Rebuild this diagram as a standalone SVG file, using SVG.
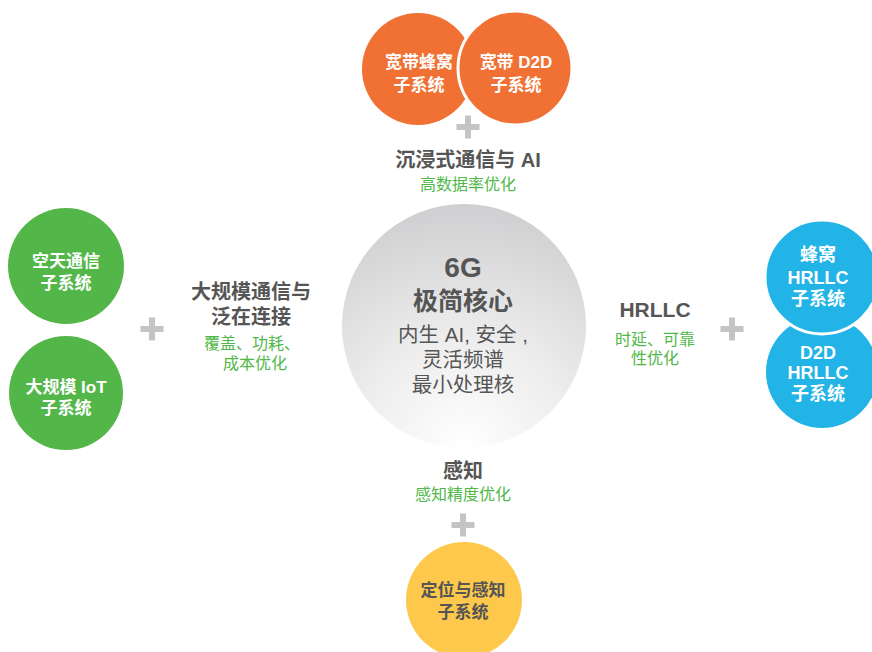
<svg xmlns="http://www.w3.org/2000/svg" width="872" height="652" viewBox="0 0 872 652">
<defs>
<radialGradient id="coreGrad" cx="50%" cy="100%" r="100%" fx="50%" fy="100%">
<stop offset="0" stop-color="#ffffff"/>
<stop offset="0.45" stop-color="#ededee"/>
<stop offset="1" stop-color="#cfcfd1"/>
</radialGradient>
<g id="plus"><rect x="-11.5" y="-3" width="23" height="6" fill="#c4c4c7"/><rect x="-3" y="-11.5" width="6" height="23" fill="#c4c4c7"/></g>
</defs>
<style>
text{font-family:"Liberation Sans","Noto Sans CJK SC",sans-serif;text-anchor:middle}
.w{fill:#fff;font-weight:bold;font-size:17px}
.wb{fill:#fff;font-weight:bold;font-size:18px}
.h{fill:#555;font-weight:bold;font-size:20px}
.g{fill:#4fb848;font-size:16px}
.d{fill:#555;font-weight:bold;font-size:17px}
.orange{fill:#f07133}
.green{fill:#53b649}
.blue{fill:#22b3e7}
.yellow{fill:#fdc84b}
</style>
<rect width="872" height="652" fill="#ffffff"/>

<g id="connectors">
<use href="#plus" x="468" y="127"/>
<use href="#plus" x="152" y="329"/>
<use href="#plus" x="732" y="329"/>
<use href="#plus" x="463" y="525"/>
</g>

<g id="core">
<circle cx="464" cy="326" r="122" fill="url(#coreGrad)"/>
<text x="463" y="277" fill="#555" font-weight="bold" font-size="28">6G</text>
<text x="463" y="310" fill="#555" font-weight="bold" font-size="25">极简核心</text>
<text x="463" y="342" fill="#555" font-size="20.5">内生 AI, 安全 ,</text>
<text x="463" y="367" fill="#555" font-size="20.5">灵活频谱</text>
<text x="463" y="392" fill="#555" font-size="20.5">最小处理核</text>
</g>

<g id="broadband-cellular">
<circle class="orange" cx="418" cy="69" r="56"/>
<text class="w" x="419" y="68">宽带蜂窝</text>
<text class="w" x="419" y="91">子系统</text>
</g>
<g id="broadband-d2d">
<circle class="orange" cx="515" cy="68" r="57" stroke="#fff" stroke-width="3"/>
<text class="w" x="516" y="68">宽带 D2D</text>
<text class="w" x="516" y="91">子系统</text>
</g>
<g id="immersive-label">
<text class="h" x="468" y="167">沉浸式通信与 AI</text>
<text class="g" x="468" y="190">高数据率优化</text>
</g>

<g id="space-air">
<circle class="green" cx="66" cy="266" r="58"/>
<text class="w" x="66" y="267">空天通信</text>
<text class="w" x="66" y="289">子系统</text>
</g>
<g id="massive-iot">
<circle class="green" cx="66" cy="393" r="57"/>
<text class="w" x="66" y="393">大规模 IoT</text>
<text class="w" x="66" y="414">子系统</text>
</g>
<g id="massive-label">
<text class="h" x="251" y="299">大规模通信与</text>
<text class="h" x="251" y="324">泛在连接</text>
<text class="g" x="252" y="349">覆盖、功耗、</text>
<text class="g" x="255" y="369">成本优化</text>
</g>

<g id="d2d-hrllc">
<circle class="blue" cx="822" cy="372" r="56"/>
<text class="wb" x="818" y="359">D2D</text>
<text class="wb" x="818" y="379">HRLLC</text>
<text class="wb" x="818" y="400">子系统</text>
</g>
<g id="cellular-hrllc">
<circle class="blue" cx="822" cy="277" r="57" stroke="#fff" stroke-width="3"/>
<text class="wb" x="818" y="261">蜂窝</text>
<text class="wb" x="818" y="284">HRLLC</text>
<text class="wb" x="818" y="305">子系统</text>
</g>
<g id="hrllc-label">
<text x="655" y="317" fill="#555" font-weight="bold" font-size="21">HRLLC</text>
<text class="g" x="655" y="345">时延、可靠</text>
<text class="g" x="655" y="364">性优化</text>
</g>

<g id="sensing-label">
<text class="h" x="463" y="478">感知</text>
<text class="g" x="463" y="500">感知精度优化</text>
</g>
<g id="positioning-sensing">
<circle class="yellow" cx="464" cy="600" r="58"/>
<text class="d" x="463" y="596">定位与感知</text>
<text class="d" x="463" y="618">子系统</text>
</g>
</svg>
